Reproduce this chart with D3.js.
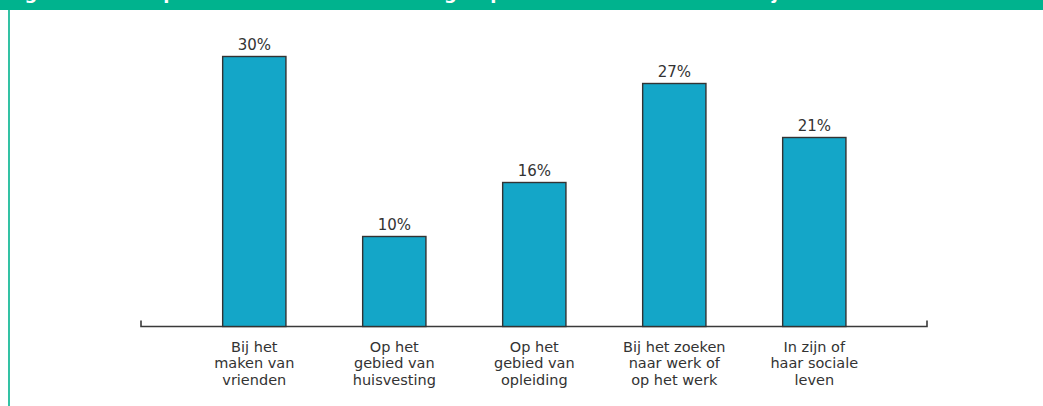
<!DOCTYPE html>
<html>
<head>
<meta charset="utf-8">
<script src="https://cdn.jsdelivr.net/npm/d3@7"></script>
<style>
  html, body { margin: 0; padding: 0; background: #fff; }
  svg { display: block; font-family: "DejaVu Sans", sans-serif; }
</style>
</head>
<body>
<div class="chart"></div>
<script>
// chart data
var categories = ['vrienden', 'huisvesting', 'opleiding', 'werk', 'sociaal']
var categoryLabels = [
  ['Bij het', 'maken van', 'vrienden'],
  ['Op het', 'gebied van', 'huisvesting'],
  ['Op het', 'gebied van', 'opleiding'],
  ['Bij het zoeken', 'naar werk of', 'op het werk'],
  ['In zijn of', 'haar sociale', 'leven']
]
var values = [30, 10, 16, 27, 21]
// title sits above the picture, only its descenders show in the band
var titleParts = ['Figuur 4.', 'Op welke terreinen is de', 'groep het meest slachtoffer', 'jaar']

var width = 1043, height = 406
var green = '#00b38e', barColor = '#14a6c8', ink = '#333333'

var svg = d3.select('.chart').append('svg')
    .attr('width', width)
    .attr('height', height)

// header band
svg.append('rect')
    .attr('x', 0).attr('y', 0)
    .attr('width', width).attr('height', 10)
    .attr('fill', green)

var titleX = [6, 148, 444, 772]
svg.append('text')
    .attr('y', -1)
    .attr('fill', '#fff')
    .attr('font-weight', 'bold')
    .attr('font-size', 18)
    .selectAll('tspan')
    .data(titleParts)
    .enter().append('tspan')
    .attr('x', function(d, i) { return titleX[i] })
    .text(function(d) { return d })

// left green rule
svg.append('line')
    .attr('x1', 9).attr('x2', 9)
    .attr('y1', 10).attr('y2', height)
    .attr('stroke', green)
    .attr('stroke-width', 1.6)

var x = d3.scaleBand()
    .domain(categories)
    .range([184.3, 884.3])
    .paddingInner(0.548)
    .paddingOuter(0.274)

var y = d3.scaleLinear()
    .domain([0, 30])
    .range([326.5, 56.5])

// axis line with end ticks
var axisLeft = 141, axisRight = 927
svg.append('path')
    .attr('d', 'M' + axisLeft + ',' + (y(0) - 6) + 'V' + y(0) + 'H' + axisRight + 'V' + (y(0) - 6))
    .attr('fill', 'none')
    .attr('stroke', '#3a3a3a')
    .attr('stroke-width', 1.6)

svg.selectAll('.bar')
    .data(values)
    .enter().append('rect')
    .attr('class', 'bar')
    .attr('x', function(d, i) { return x(categories[i]) })
    .attr('width', x.bandwidth())
    .attr('y', function(d) { return y(d) })
    .attr('height', function(d) { return y(0) - y(d) })
    .attr('fill', barColor)
    .attr('stroke', ink)
    .attr('stroke-width', 1.4)

svg.selectAll('.value')
    .data(values)
    .enter().append('text')
    .attr('class', 'value')
    .attr('x', function(d, i) { return x(categories[i]) + x.bandwidth() / 2 })
    .attr('y', function(d) { return y(d) - 6.5 })
    .attr('text-anchor', 'middle')
    .attr('font-size', 15)
    .attr('fill', ink)
    .text(function(d) { return d + '%' })

var labels = svg.selectAll('.label')
    .data(categoryLabels)
    .enter().append('text')
    .attr('class', 'label')
    .attr('text-anchor', 'middle')
    .attr('font-size', 14.5)
    .attr('fill', ink)

labels.selectAll('tspan')
    .data(function(d, i) { return d.map(function(line) { return { line: line, i: i } }) })
    .enter().append('tspan')
    .attr('x', function(d) { return x(categories[d.i]) + x.bandwidth() / 2 })
    .attr('y', function(d, j) { return 351.7 + j * 16.7 })
    .text(function(d) { return d.line })
</script>
</body>
</html>
